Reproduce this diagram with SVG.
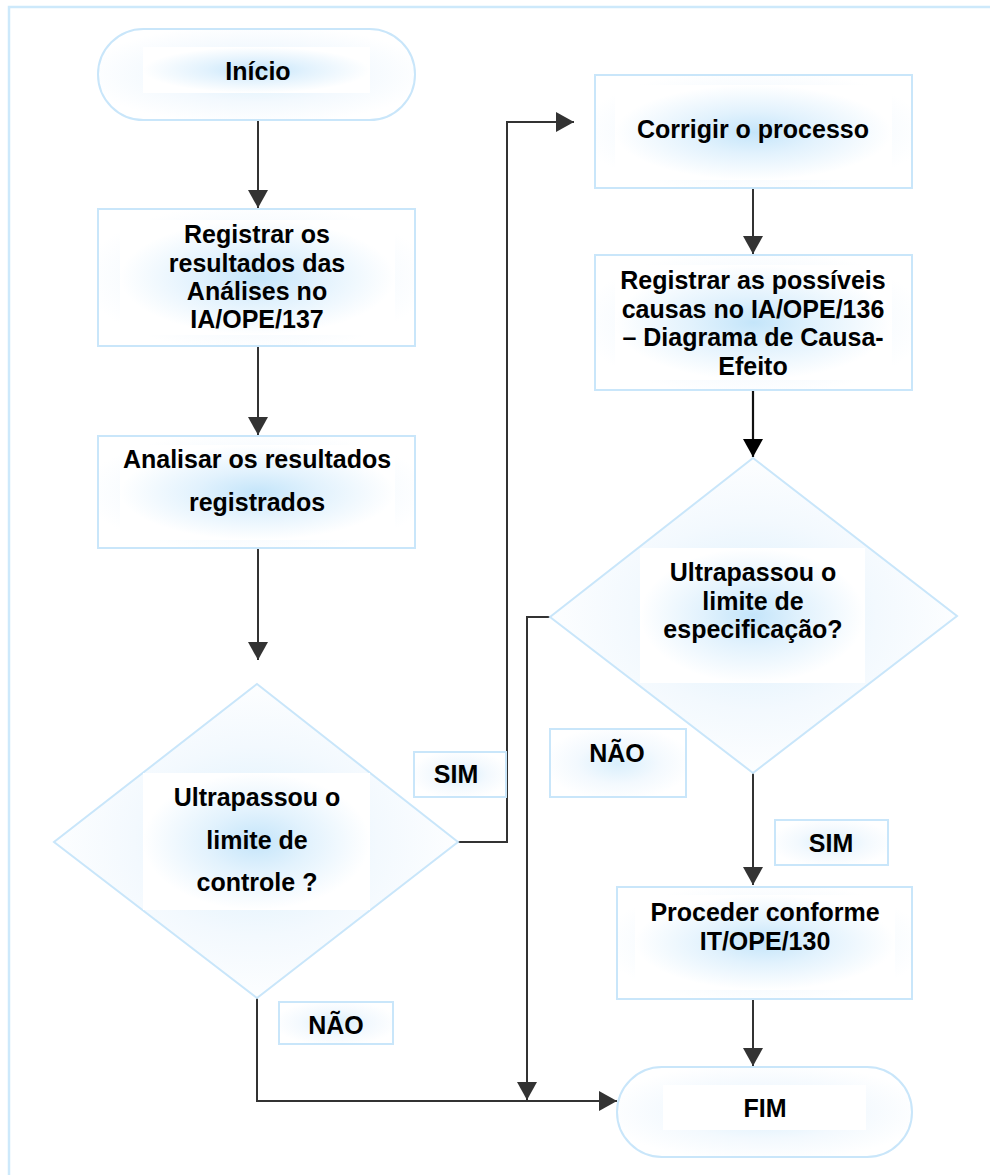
<svg xmlns="http://www.w3.org/2000/svg" width="990" height="1175" viewBox="0 0 990 1175">
  <defs>
    <style>
      .frame { fill: none; stroke: #cde9fb; stroke-width: 2.5; }
      .shape { fill: url(#shapeFill); stroke: #c9e6fa; stroke-width: 2; }
      .glow { fill: url(#glow); }
      .plain { fill: #ffffff; }
      .lbl { font-family: "Liberation Sans", Arial, sans-serif; font-weight: bold; font-size: 25px; fill: #000000; text-anchor: middle; }
      .wire { fill: none; stroke: #333333; stroke-width: 2; }
      .wire-dark { fill: none; stroke: #111111; stroke-width: 2.2; }
    </style>
    <radialGradient id="shapeFill" cx="0.5" cy="0.5" r="0.55">
      <stop offset="0" stop-color="#d9effc"/>
      <stop offset="0.55" stop-color="#f3f9fe"/>
      <stop offset="1" stop-color="#ffffff"/>
    </radialGradient>
    <radialGradient id="glow" cx="0.5" cy="0.5" r="0.5">
      <stop offset="0" stop-color="#c4e5fa"/>
      <stop offset="0.45" stop-color="#e2f2fd"/>
      <stop offset="1" stop-color="#ffffff"/>
    </radialGradient>
    <marker id="arrow" markerUnits="userSpaceOnUse" markerWidth="18" markerHeight="20" refX="18" refY="10" orient="auto">
      <path d="M0,0 L18,10 L0,20 Z" fill="#333333"/>
    </marker>
    <marker id="arrowDark" markerUnits="userSpaceOnUse" markerWidth="18" markerHeight="20" refX="18" refY="10" orient="auto">
      <path d="M0,0 L18,10 L0,20 Z" fill="#000000"/>
    </marker>
  </defs>

  <rect width="990" height="1175" fill="#ffffff"/>
  <rect class="frame" x="9" y="7" width="1000" height="1200"/>

  <!-- connectors -->
  <g id="connectors">
    <path class="wire" d="M258,120 V208" marker-end="url(#arrow)"/>
    <path class="wire" d="M258,346 V435" marker-end="url(#arrow)"/>
    <path class="wire" d="M258,548 V660" marker-end="url(#arrow)"/>
    <path class="wire" d="M458,842 H507 V122 H574" marker-end="url(#arrow)"/>
    <path class="wire" d="M753,188 V254" marker-end="url(#arrow)"/>
    <path class="wire-dark" d="M753,390 V457" marker-end="url(#arrowDark)"/>
    <path class="wire" d="M753,773 V885" marker-end="url(#arrow)"/>
    <path class="wire" d="M753,999 V1066" marker-end="url(#arrow)"/>
    <path class="wire" d="M550,617 H527 V1100" marker-end="url(#arrow)"/>
    <path class="wire" d="M257,998 V1101 H617" marker-end="url(#arrow)"/>
  </g>

  <!-- start terminal -->
  <g id="inicio">
    <rect class="shape" x="98" y="29" width="317" height="91" rx="45.5"/>
    <rect class="plain" x="143" y="47" width="227" height="46"/>
    <rect class="glow" x="143" y="47" width="227" height="46"/>
    <text class="lbl" x="258" y="80">Início</text>
  </g>

  <g id="registrar-resultados">
    <rect class="shape" x="98" y="209" width="317" height="137"/>
    <rect class="glow" x="120" y="220" width="275" height="115"/>
    <text class="lbl" x="257" y="243">Registrar os</text>
    <text class="lbl" x="257" y="272">resultados das</text>
    <text class="lbl" x="257" y="300">Análises no</text>
    <text class="lbl" x="257" y="328">IA/OPE/137</text>
  </g>

  <g id="analisar">
    <rect class="shape" x="98" y="436" width="317" height="112"/>
    <rect class="glow" x="120" y="445" width="275" height="95"/>
    <text class="lbl" x="257" y="468">Analisar os resultados</text>
    <text class="lbl" x="257" y="511">registrados</text>
  </g>

  <g id="decisao-controle">
    <polygon class="shape" points="257,684 458,842 257,998 54,842"/>
    <rect class="plain" x="143" y="773" width="227" height="137" opacity="0.6"/>
    <rect class="glow" x="143" y="773" width="227" height="137"/>
    <text class="lbl" x="257" y="806">Ultrapassou o</text>
    <text class="lbl" x="257" y="849">limite de</text>
    <text class="lbl" x="257" y="891">controle ?</text>
  </g>

  <g id="label-sim-1">
    <rect class="shape" x="414" y="752" width="92" height="45"/>
    <text class="lbl" x="456" y="783">SIM</text>
  </g>

  <g id="label-nao-1">
    <rect class="shape" x="279" y="1002" width="114" height="42"/>
    <text class="lbl" x="336" y="1034">NÃO</text>
  </g>

  <g id="corrigir">
    <rect class="shape" x="595" y="75" width="317" height="113"/>
    <rect class="glow" x="615" y="85" width="277" height="95"/>
    <text class="lbl" x="753" y="138">Corrigir o processo</text>
  </g>

  <g id="registrar-causas">
    <rect class="shape" x="595" y="255" width="317" height="135"/>
    <rect class="glow" x="615" y="265" width="277" height="115"/>
    <text class="lbl" x="753" y="289">Registrar as possíveis</text>
    <text class="lbl" x="753" y="318">causas no IA/OPE/136</text>
    <text class="lbl" x="753" y="346">– Diagrama de Causa-</text>
    <text class="lbl" x="753" y="375">Efeito</text>
  </g>

  <g id="decisao-especificacao">
    <polygon class="shape" points="753,458 957,616 753,773 550,617"/>
    <rect class="plain" x="640" y="548" width="225" height="135" opacity="0.6"/>
    <rect class="glow" x="640" y="548" width="225" height="135"/>
    <text class="lbl" x="753" y="581">Ultrapassou o</text>
    <text class="lbl" x="753" y="610">limite de</text>
    <text class="lbl" x="753" y="638">especificação?</text>
  </g>

  <g id="label-nao-2">
    <rect class="shape" x="550" y="729" width="136" height="68"/>
    <text class="lbl" x="617" y="762">NÃO</text>
  </g>

  <g id="label-sim-2">
    <rect class="shape" x="775" y="820" width="113" height="45"/>
    <text class="lbl" x="831" y="852">SIM</text>
  </g>

  <g id="proceder">
    <rect class="shape" x="617" y="887" width="295" height="112"/>
    <rect class="glow" x="635" y="895" width="260" height="95"/>
    <text class="lbl" x="765" y="921">Proceder conforme</text>
    <text class="lbl" x="765" y="950">IT/OPE/130</text>
  </g>

  <!-- end terminal -->
  <g id="fim">
    <rect class="shape" x="617" y="1067" width="295" height="90" rx="45"/>
    <rect class="plain" x="663" y="1085" width="203" height="45"/>
    <text class="lbl" x="765" y="1117">FIM</text>
  </g>
</svg>
